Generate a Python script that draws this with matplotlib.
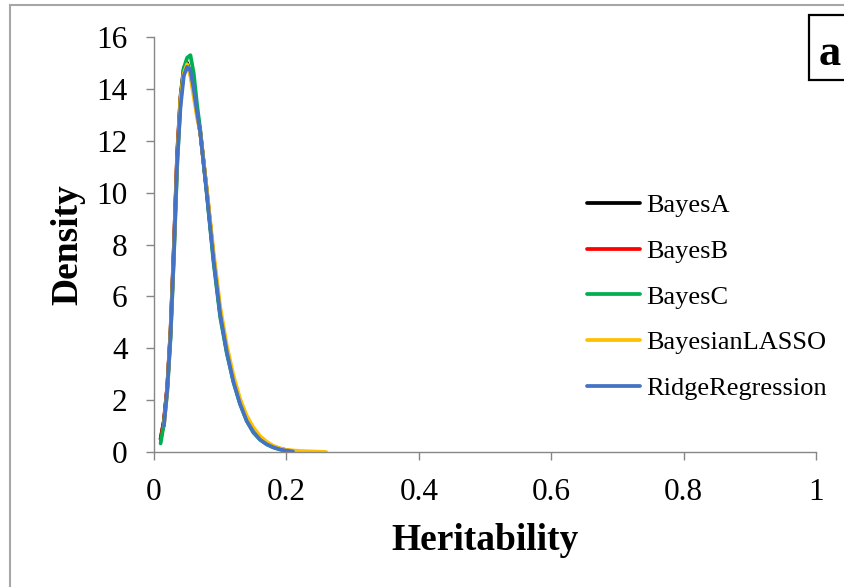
import matplotlib
matplotlib.use("Agg")
import matplotlib.pyplot as plt
from matplotlib.patches import Rectangle

# Posterior density of heritability for each model
h_common = [0.01, 0.015, 0.02, 0.025, 0.03, 0.035, 0.04, 0.045, 0.05, 0.055,
            0.06, 0.065, 0.07, 0.08, 0.09, 0.10, 0.11, 0.12, 0.13, 0.14,
            0.15, 0.16, 0.17, 0.18, 0.19, 0.20, 0.21]

bayes_a = [0.5, 1.2, 2.5, 4.7, 7.9, 11.5, 13.7, 14.8, 15.0, 14.6,
           13.9, 13.1, 12.3, 10.0, 7.5, 5.4, 3.9, 2.8, 1.95, 1.3,
           0.85, 0.55, 0.36, 0.22, 0.13, 0.07, 0.03]
bayes_b = [0.5, 1.2, 2.5, 4.6, 7.8, 11.4, 13.6, 14.7, 14.9, 14.6,
           13.9, 13.1, 12.3, 10.0, 7.5, 5.3, 3.9, 2.8, 1.9, 1.28,
           0.83, 0.53, 0.34, 0.21, 0.12, 0.06, 0.03]
bayes_c = [0.33, 1.1, 2.3, 4.4, 7.5, 11.0, 13.5, 14.8, 15.2, 15.3,
           14.6, 13.4, 12.4, 9.9, 7.3, 5.2, 3.8, 2.7, 1.85, 1.2,
           0.75, 0.48, 0.3, 0.18, 0.1, 0.05, 0.02]
lasso_h = [0.015, 0.02, 0.025, 0.03, 0.035, 0.04, 0.045, 0.05, 0.055,
           0.06, 0.065, 0.07, 0.08, 0.09, 0.10, 0.11, 0.12, 0.13, 0.14,
           0.15, 0.16, 0.17, 0.18, 0.19, 0.20, 0.22, 0.24, 0.26]
lasso = [1.0, 2.4, 4.6, 7.7, 11.3, 13.6, 14.6, 14.95, 14.5,
         13.7, 12.9, 12.3, 10.1, 7.7, 5.6, 4.1, 2.95, 2.05, 1.4,
         0.95, 0.62, 0.4, 0.24, 0.14, 0.08, 0.04, 0.02, 0.0]
ridge_h = [0.015, 0.02, 0.025, 0.03, 0.035, 0.04, 0.045, 0.05, 0.055,
           0.06, 0.065, 0.07, 0.08, 0.09, 0.10, 0.11, 0.12, 0.13, 0.14,
           0.15, 0.16, 0.17, 0.18, 0.19, 0.20, 0.21]
ridge = [1.0, 2.4, 4.5, 7.6, 11.2, 13.3, 14.5, 14.85, 14.7,
         14.0, 13.1, 12.3, 9.9, 7.4, 5.3, 3.85, 2.7, 1.85, 1.2,
         0.78, 0.48, 0.3, 0.18, 0.1, 0.05, 0.02]

series = [
    ("BayesA", h_common, bayes_a, "#000000"),
    ("BayesB", h_common, bayes_b, "#ff0000"),
    ("BayesC", h_common, bayes_c, "#00b050"),
    ("BayesianLASSO", lasso_h, lasso, "#ffc000"),
    ("RidgeRegression", ridge_h, ridge, "#4472c4"),
]

x_ticks = [0, 0.2, 0.4, 0.6, 0.8, 1.0]
x_tick_labels = ["0", "0.2", "0.4", "0.6", "0.8", "1"]
y_ticks = [0, 2, 4, 6, 8, 10, 12, 14, 16]

plt.rcParams["font.family"] = ["Liberation Serif", "DejaVu Serif"]

W, H = 844, 587
fig = plt.figure(figsize=(W / 100, H / 100), dpi=100)
ax = fig.add_axes([154 / W, 1 - 452 / H, (816 - 154) / W, (452 - 37) / H])

for name, xs, ys, col in series:
    ax.plot(xs, ys, color=col, lw=2.7, label=name, solid_capstyle="round")

ax.set_xlim(0, 1)
ax.set_ylim(0, 16)
ax.set_xticks(x_ticks)
ax.set_xticklabels(x_tick_labels)
ax.set_yticks(y_ticks)
ax.tick_params(axis="both", direction="out", length=6, width=1,
               color="#868686", labelsize=22.5)
ax.tick_params(axis="y", pad=13)
ax.tick_params(axis="x", pad=13)
for side in ("top", "right"):
    ax.spines[side].set_visible(False)
for side in ("left", "bottom"):
    ax.spines[side].set_color("#868686")
    ax.spines[side].set_linewidth(1)

ax.set_xlabel("Heritability", fontsize=27, fontweight="bold", labelpad=11)
ax.set_ylabel("Density", fontsize=27, fontweight="bold", labelpad=8)

leg = ax.legend(loc="center left", bbox_to_anchor=(0.654, 0.3735),
                frameon=False, fontsize=19, handlelength=2.0,
                handletextpad=0.25, labelspacing=0.84,
                borderpad=0, borderaxespad=0)

# outer chart-area border
fig.patches.append(Rectangle((10 / W, -0.1), 1.2, 1 - 5 / H + 0.1,
                             transform=fig.transFigure, fill=False,
                             edgecolor="#a6a6a6", lw=1.5))

# panel tag in its box
fig.patches.append(Rectangle((809 / W, 1 - 80 / H), 0.2, 65 / H,
                             transform=fig.transFigure, facecolor="white",
                             edgecolor="black", lw=1.6))
fig.text(819 / W, 1 - 65 / H, "a", fontsize=32, fontweight="bold",
         va="baseline", ha="left")

fig.savefig("out.png", dpi=100)
